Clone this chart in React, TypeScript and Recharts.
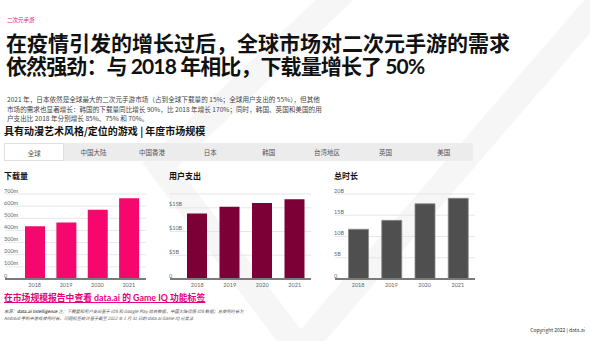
import { Bar, BarChart, CartesianGrid, XAxis, YAxis } from "recharts";

const years = ["2018", "2019", "2020", "2021"];
const downloads = [435, 465, 570, 665];
const spending = [13.8, 15.2, 16.0, 16.8];
const hours = [11.7, 13.8, 17.7, 19.0];

const downloadTicks = [0, 100, 200, 300, 400, 500, 600, 700];
const downloadLabels = ["0", "100m", "200m", "300m", "400m", "500m", "600m", "700m"];
const spendingTicks = [0, 5, 10, 15];
const spendingLabels = ["0", "$5B", "$10B", "$15B"];
const hoursTicks = [0, 5, 10, 15, 20];
const hoursLabels = ["0", "5B", "10B", "15B", "20B"];

const tabs = ["全球", "中国大陆", "中国香港", "日本", "韩国", "台湾地区", "英国", "美国"];

const font = "'Noto Sans CJK SC', 'Noto Sans', sans-serif";
const latinFont = "Lato, 'Noto Sans CJK SC', sans-serif";

function MiniChart({
  title,
  values,
  ticks,
  labels,
  max,
  color,
  outline,
  left,
  width,
  pad,
}: {
  title: string;
  values: number[];
  ticks: number[];
  labels: string[];
  max: number;
  color: string;
  outline?: string;
  left: number;
  width: number;
  pad: { left: number; right: number };
}) {
  const data = years.map((year, i) => ({ year, value: values[i] }));
  return (
    <div style={{ position: "absolute", left, top: 168 }}>
      <div style={{ fontSize: 8, fontWeight: 700, lineHeight: "16px", color: "#111" }}>{title}</div>
      <BarChart width={width + 1} height={108} data={data} margin={{ top: 10, right: 0, bottom: 0, left: 0 }}>
        <CartesianGrid vertical={false} stroke="#dcdcdc" strokeWidth={0.7} />
        <YAxis
          width={1}
          domain={[0, max]}
          ticks={ticks}
          interval={0}
          axisLine={false}
          tickLine={false}
          tick={(p: any) => (
            <text x={0} y={p.y - 1.5} fontSize={5.5} fill="#666" fontFamily={latinFont}>
              {labels[ticks.indexOf(p.payload.value)]}
            </text>
          )}
        />
        <XAxis
          dataKey="year"
          height={13}
          interval={0}
          padding={pad}
          axisLine={{ stroke: "#7a7a7a", strokeWidth: 2 }}
          tickLine={false}
          tickSize={0}
          tickMargin={4}
          tick={{ fontSize: 5.5, fill: "#666", fontFamily: latinFont }}
        />
        <Bar
          dataKey="value"
          fill={color}
          stroke={outline}
          strokeWidth={outline ? 0.8 : 0}
          barSize={20}
          isAnimationActive={false}
        />
      </BarChart>
    </div>
  );
}

export default function App() {
  return (
    <div
      style={{
        position: "fixed",
        left: 0,
        top: 0,
        width: 590,
        height: 341,
        overflow: "hidden",
        background: "#fff",
        fontFamily: font,
        color: "#111",
      }}
    >
      <style>{"body{margin:0}"}</style>
      {/* faint logo watermark */}
      <svg width={590} height={341} style={{ position: "absolute", left: 0, top: 0 }}>
        <g fill="none" stroke="#f6f6f6" strokeWidth={26}>
          <polyline points="345,-10 160,165 300,350" />
          <polyline points="610,-10 300,350" />
        </g>
      </svg>

      <div style={{ position: "absolute", left: 7, top: 16, fontSize: 5.5, lineHeight: "8px", color: "#e0157f" }}>
        二次元手游
      </div>
      <div
        style={{
          position: "absolute",
          left: 6,
          top: 31,
          fontSize: 21,
          lineHeight: "23px",
          fontWeight: 700,
          whiteSpace: "nowrap",
          color: "#111",
          fontFamily: latinFont,
        }}
      >
        <div>在疫情引发的增长过后，全球市场对二次元手游的需求</div>
        <div style={{ letterSpacing: -0.9 }}>依然强劲：与 2018 年相比，下载量增长了 50%</div>
      </div>
      <div
        style={{
          position: "absolute",
          left: 7,
          top: 95,
          fontSize: 6.6,
          lineHeight: "9.5px",
          whiteSpace: "nowrap",
          color: "#444",
        }}
      >
        2021 年，日本依然是全球最大的二次元手游市场（占到全球下载量的 15%；全球用户支出的 55%），但其他
        <br />
        市场的需求也显著增长：韩国的下载量同比增长 90%，比 2018 年增长 170%；同时，韩国、英国和美国的用
        <br />
        户支出比 2018 年分别增长 85%、75% 和 70%。
      </div>
      <div
        style={{
          position: "absolute",
          left: 4,
          top: 124,
          fontSize: 10,
          lineHeight: "14px",
          fontWeight: 700,
          whiteSpace: "nowrap",
        }}
      >
        具有动漫艺术风格/定位的游戏 | 年度市场规模
      </div>
      <div
        style={{
          position: "absolute",
          left: 4,
          top: 143,
          width: 469,
          height: 18,
          display: "flex",
          background: "#ececec",
        }}
      >
        {tabs.map((t, i) => (
          <div
            key={t}
            style={{
              flex: 1,
              textAlign: "center",
              fontSize: 6.5,
              lineHeight: "18px",
              color: "#555",
              background: i === 0 ? "#fff" : "transparent",
              boxSizing: "border-box",
              border: i === 0 ? "0.5px solid #e0e0e0" : "none",
            }}
          >
            {t}
          </div>
        ))}
      </div>

      <MiniChart
        title="下载量"
        values={downloads}
        ticks={downloadTicks}
        labels={downloadLabels}
        max={700}
        color="#f5076d"
        left={4}
        width={141}
        pad={{ left: 14, right: 1.5 }}
      />
      <MiniChart
        title="用户支出"
        values={spending}
        ticks={spendingTicks}
        labels={spendingLabels}
        max={17.9}
        color="#7c0035"
        left={169}
        width={141}
        pad={{ left: 11, right: 0 }}
      />
      <MiniChart
        title="总时长"
        values={hours}
        ticks={hoursTicks}
        labels={hoursLabels}
        max={20}
        color="#4f4f4f"
        outline="#8a8a8a"
        left={334}
        width={140}
        pad={{ left: 6.5, right: 0.5 }}
      />

      <div
        style={{
          position: "absolute",
          left: 4,
          top: 291,
          fontSize: 8.8,
          lineHeight: "13px",
          fontWeight: 700,
          color: "#e5007e",
          textDecoration: "underline",
          whiteSpace: "nowrap",
          fontFamily: latinFont,
        }}
      >
        在市场规模报告中查看 data.ai 的 Game IQ 功能标签
      </div>
      <div
        style={{
          position: "absolute",
          left: 4,
          top: 308,
          fontSize: 4.3,
          lineHeight: "6.5px",
          fontStyle: "italic",
          color: "#555",
          whiteSpace: "nowrap",
        }}
      >
        来源：<b>data.ai Intelligence</b> 注：下载量和用户支出基于 iOS 和 Google Play 综合数据，中国大陆仅限 iOS 数据；总使用时长为
        <br />
        Android 手机中游戏使用时长。问题标签统计基于截至 2022 年 1 月 31 日的 data.ai Game IQ 分类法
      </div>
      <div
        style={{
          position: "absolute",
          right: 5,
          top: 326,
          fontSize: 5,
          lineHeight: "7px",
          color: "#333",
          whiteSpace: "nowrap",
        }}
      >
        Copyright 2022 | data.ai
      </div>
    </div>
  );
}
